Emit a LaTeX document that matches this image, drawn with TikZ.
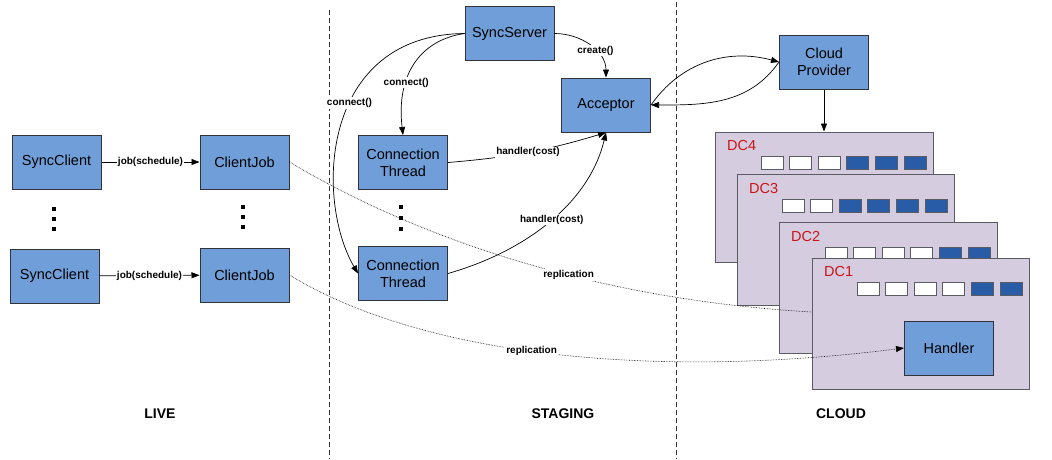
\documentclass[tikz,border=0pt]{standalone}
\usepackage{fontspec}
\setmainfont{Liberation Sans}
\usetikzlibrary{arrows.meta}

\definecolor{boxblue}{RGB}{111,158,217}
\definecolor{boxline}{RGB}{50,50,60}
\definecolor{dcfill}{RGB}{213,204,224}
\definecolor{slotblue}{RGB}{40,92,166}
\definecolor{dcred}{RGB}{204,20,20}

\tikzset{
  box/.style={draw=boxline, line width=1pt, fill=boxblue, minimum width=89pt,
    minimum height=54pt, inner sep=0pt, align=center,
    font=\fontsize{14.5}{17}\selectfont},
  dcbox/.style={draw=boxline!80, line width=1pt, fill=dcfill, minimum width=218pt,
    minimum height=130pt, inner sep=0pt},
  slot/.style={draw=boxline!80, line width=0.8pt, minimum width=22pt,
    minimum height=13pt, inner sep=0pt},
  freeslot/.style={slot, fill=white},
  usedslot/.style={slot, fill=slotblue},
  dclabel/.style={text=dcred, anchor=west, inner sep=0pt,
    font=\fontsize{14.5}{16}\selectfont},
  lbl/.style={fill=white, inner sep=1pt, font=\bfseries\fontsize{10}{11}\selectfont},
  section/.style={font=\bfseries\fontsize{14}{16}\selectfont},
  arr/.style={-{Triangle[length=8pt,width=6pt]}, line width=0.7pt},
  repl/.style={densely dotted, line width=0.6pt},
  tier/.style={dash pattern=on 5pt off 3pt, line width=0.7pt, draw=black!80},
  dot/.style={fill=black, minimum size=4pt, inner sep=0pt}
}

\begin{document}
\begin{tikzpicture}[x=1pt, y=-1pt]
\useasboundingbox (0,0) rectangle (1052,459);

% tier separators
\coordinate (t1top) at (329,10);
\coordinate (t1bot) at (329,459);
\coordinate (t2top) at (676,2);
\coordinate (t2bot) at (676,459);
\draw[tier] (t1top) -- (t1bot);
\draw[tier] (t2top) -- (t2bot);

% LIVE tier
\node[box] (sc1) at (56.5,162) {SyncClient};
\node[box] (cj1) at (244.5,162) {ClientJob};
\node[box] (sc2) at (54.5,276) {SyncClient};
\node[box] (cj2) at (244.5,275) {ClientJob};
\foreach \y [count=\i] in {209,219,229} {
  \node[dot] (ldl\i) at (54,\y) {};
  \node[dot] (ldr\i) at (243,\y-2) {};
}
\draw[arr] (sc1) -- node[lbl] {job(schedule)} (cj1);
\draw[arr] (sc2) -- node[lbl] {job(schedule)} (cj2);

% STAGING tier
\node[box] (ss) at (509.5,33.5) {SyncServer};
\node[box] (acc) at (606,105) {Acceptor};
\node[box] (ct1) at (403,162.5) {Connection\\Thread};
\node[box] (ct2) at (403,273.5) {Connection\\Thread};
\foreach \y [count=\i] in {207,218,229} {
  \node[dot] (sdt\i) at (401,\y) {};
}
\draw[arr] (ss.west) .. controls (420,40) and (396,75) .. node[lbl, pos=0.66] {connect()} (ct1.north);
\draw[arr] (ss.west) .. controls (320,35) and (315,200) .. node[lbl, pos=0.42] {connect()} (ct2.west);
\draw[arr] (ss.east) to[out=0, in=90] node[lbl, pos=0.6] {create()} (acc.north);
\draw[arr] (ct1.east) to[bend right=6] node[lbl, pos=0.5] {handler(cost)} (acc.south);
\draw[arr] (ct2.east) .. controls (530,250) and (590,200) .. node[lbl, pos=0.5] {handler(cost)} (acc.south);

% CLOUD tier
\node[box] (cp) at (824,62) {Cloud\\Provider};
\draw[arr] (acc.east) to[out=55, in=165] (cp.west);
\draw[arr] (cp.west) to[out=-125, in=0] (acc.east);

\node[dcbox] (dc4) at (824,197) {};
\node[dclabel] (dc4l) at (727,146) {DC4};
\foreach \k in {0,...,5} {
  \ifnum\k<3 \node[freeslot] (s4\k) at (772+28.6*\k,162.5) {};
  \else \node[usedslot] (s4\k) at (772+28.6*\k,162.5) {}; \fi
}
\node[dcbox, minimum width=217pt, minimum height=131pt] (dc3) at (845.5,239.5) {};
\node[dclabel] (dc3l) at (749,189) {DC3};
\foreach \k in {0,...,5} {
  \ifnum\k<2 \node[freeslot] (s3\k) at (793+28.6*\k,205.5) {};
  \else \node[usedslot] (s3\k) at (793+28.6*\k,205.5) {}; \fi
}
\node[dcbox, minimum height=131pt] (dc2) at (888,287.5) {};
\node[dclabel] (dc2l) at (791,237) {DC2};
\foreach \k in {0,...,5} {
  \ifnum\k<4 \node[freeslot] (s2\k) at (836+28.6*\k,253.5) {};
  \else \node[usedslot] (s2\k) at (836+28.6*\k,253.5) {}; \fi
}
\draw[arr] (cp.south) -- (dc4.north);

% replication of the first job ends at the DC1 boundary
\coordinate (dc1in) at (812,312);
\draw[repl] (cj1.east) .. controls (420,240) and (600,300) .. node[lbl, pos=0.59] {replication} (dc1in);

\node[dcbox, minimum width=217pt, minimum height=131pt] (dc1) at (920.5,323.5) {};
\node[dclabel] (dc1l) at (824,272) {DC1};
\foreach \k in {0,...,5} {
  \ifnum\k<4 \node[freeslot] (s1\k) at (868+28.6*\k,289) {};
  \else \node[usedslot] (s1\k) at (868+28.6*\k,289) {}; \fi
}
\node[box] (handler) at (949,348) {Handler};

\draw[repl, -{Triangle[length=8pt,width=6pt]}] (cj2.east) .. controls (420,355) and (650,380) .. node[lbl, pos=0.47] {replication} (handler.west);

% tier titles
\node[section] (live) at (160,414) {LIVE};
\node[section] (staging) at (563,414) {STAGING};
\node[section] (cloud) at (841,414) {CLOUD};
\end{tikzpicture}
\end{document}
